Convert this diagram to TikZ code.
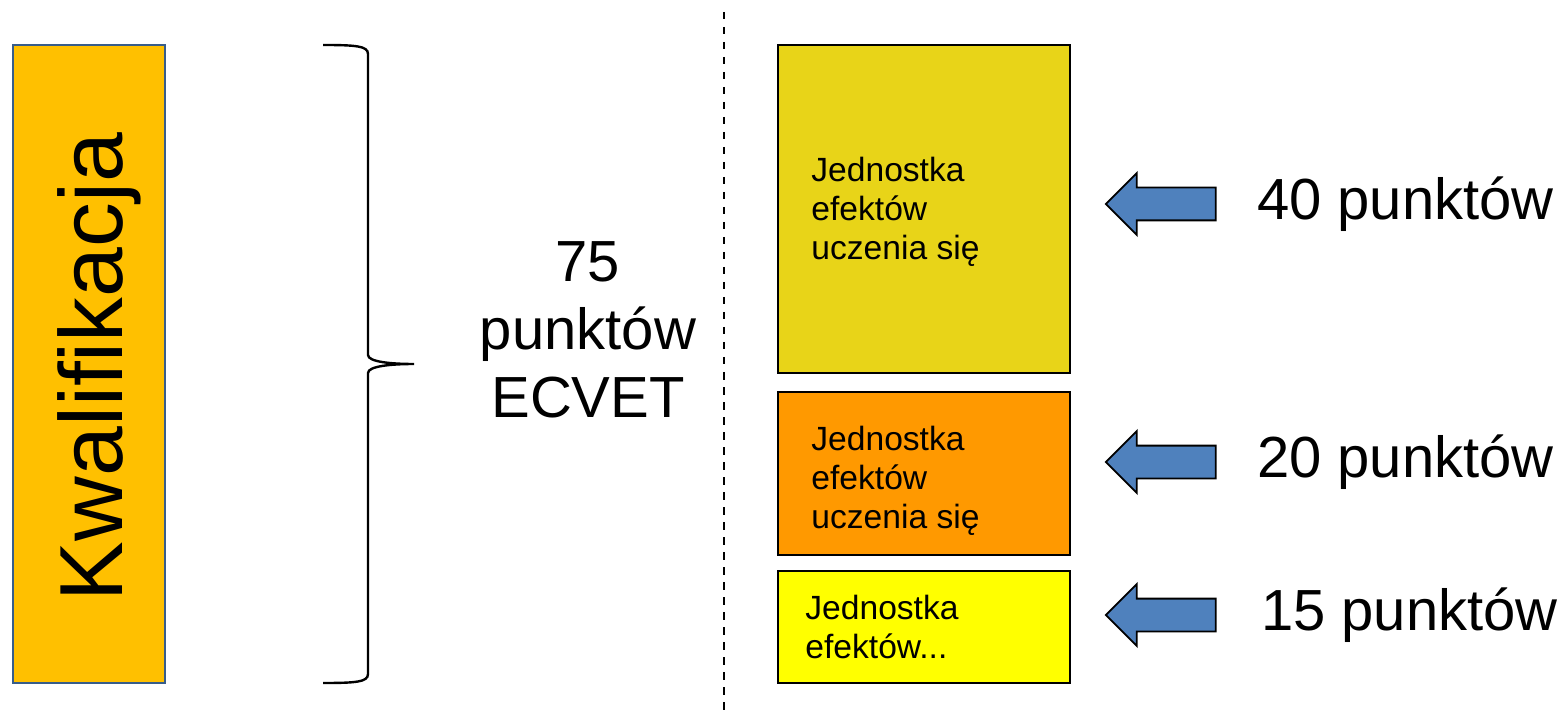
\documentclass[tikz,border=0pt]{standalone}
\usepackage{fontspec}
\setmainfont{Liberation Sans}
\usetikzlibrary{shapes.arrows,positioning}

\definecolor{qualfill}{RGB}{255,192,0}
\definecolor{qualdraw}{RGB}{56,93,138}
\definecolor{unitA}{RGB}{232,212,24}
\definecolor{unitB}{RGB}{255,153,0}
\definecolor{unitC}{RGB}{255,255,0}
\definecolor{arrowfill}{RGB}{79,129,189}

\begin{document}
\begin{tikzpicture}[x=0.5pt,y=-0.5pt,
                    unitbox/.style={draw=black, line width=1pt, inner sep=0pt, minimum width=146pt},
                    unittext/.style={anchor=west, align=left, inner sep=0pt, font=\fontsize{16.8}{19.5}\selectfont},
                    pointer/.style={single arrow, shape border rotate=180, draw=black, line width=0.9pt,
                                    fill=arrowfill, inner sep=7.75pt, minimum height=55pt,
                                    single arrow head extend=7.25pt},
                    points/.style={anchor=west, inner sep=0pt, font=\fontsize{29}{34}\selectfont}]

  \useasboundingbox (0,0) rectangle (1562,716);

  % QUALIFICATION
  \node[draw=qualdraw, fill=qualfill, line width=1pt, minimum width=76pt, minimum height=319pt,
        inner sep=0pt] (qual) at (89,364) {};
  \node[rotate=90, font=\fontsize{44.8}{50}\selectfont] (qualtext) at ([xshift=5pt,yshift=-1.5pt]qual.center) {Kwalifikacja};

  % BRACE
  \draw[line width=1.2pt] (323,45) .. controls (356,45) and (368,46) .. (368,54) -- (368,355)
        .. controls (368,362) and (392,364) .. (414,364)
        .. controls (392,364) and (368,366) .. (368,373) -- (368,674)
        .. controls (368,682) and (356,683) .. (323,683);

  \node[align=center, font=\fontsize{29}{34}\selectfont] (total) at (588,330) {75\\punktów\\ECVET};

  % SEPARATOR
  \draw[line width=1pt, dash pattern=on 3.75pt off 3.75pt] (724,12) -- (724,716);

  % UNITS
  \node[unitbox, fill=unitA, minimum height=164pt] (u1) at (924,209) {};
  \node[unitbox, fill=unitB, minimum height=81.5pt] (u2) at (924,473.5) {};
  \node[unitbox, fill=unitC, minimum height=56pt] (u3) at (924,627) {};

  \node[unittext] (t1) at ([xshift=17pt,yshift=-1.5pt]u1.west) {Jednostka\\efektów\\uczenia się};
  \node[unittext] (t2) at ([xshift=17pt,yshift=-3.5pt]u2.west) {Jednostka\\efektów\\uczenia się};
  \node[unittext] (t3) at ([xshift=14pt]u3.west) {Jednostka\\efektów...};

  % ARROWS
  \node[pointer] (a1) at (1169,204) {};
  \node[pointer] (a2) at (1169,462) {};
  \node[pointer] (a3) at (1169,615) {};

  \node[points, right=20pt of a1] (p1) {40 punktów};
  \node[points, right=20pt of a2] (p2) {20 punktów};
  \node[points, right=22pt of a3] (p3) {15 punktów};

\end{tikzpicture}
\end{document}
